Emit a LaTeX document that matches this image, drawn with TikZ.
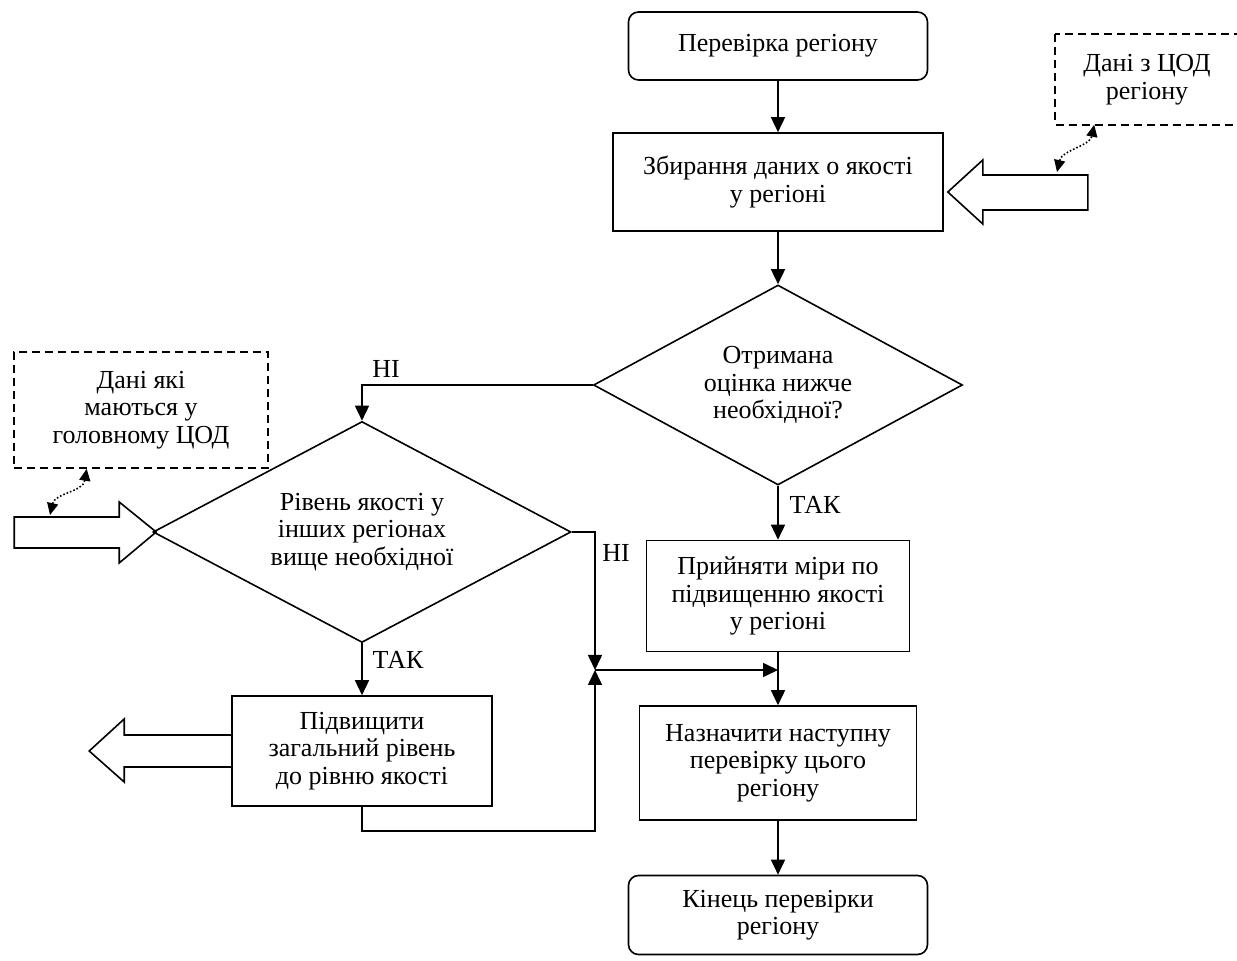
\documentclass[tikz,border=0pt]{standalone}
\usepackage{fontspec}
\setmainfont{Liberation Serif}
\usetikzlibrary{shapes.geometric,arrows.meta}
\tikzset{%
  terminal/.style={rectangle,rounded corners=5pt,draw,align=center,
    minimum width=149.5pt},
  process/.style={rectangle,draw,align=center},
  decision/.style={diamond,draw,align=center,inner sep=0pt},
  source/.style={rectangle,draw,align=center,dash pattern=on 4pt off 2.5pt},
  pre/.style={<-,>={Triangle[length=7.5pt,width=7pt]}},
  post/.style={->,>={Triangle[length=7.5pt,width=7pt]}},
  link/.style={<->,densely dotted,>={Triangle[length=6pt,width=5.5pt]}},
  fat/.style={draw,line join=miter}
}

\begin{document}
\begin{tikzpicture}[x=0.5pt,y=-0.5pt,line width=0.8pt,
    font=\fontsize{13}{13.75}\selectfont]
    \useasboundingbox (0,0) rectangle (1237,961);

    % main column
    \node [terminal,minimum height=34pt] (start) at (778,46) {Перевірка регіону};
    \node [process,minimum width=165pt,minimum height=49pt] (collect) at (778,182)
      {Збирання даних о якості\\у регіоні} edge [pre] (start);
    \node [decision,minimum width=184.5pt,minimum height=100pt,aspect=1.85] (check) at (778,385)
      {Отримана\\оцінка нижче\\необхідної?} edge [pre] (collect);
    \node [process,minimum width=131.5pt,minimum height=55.5pt] (measures) at (778,596)
      {Прийняти міри по\\підвищенню якості\\у регіоні} edge [pre] (check);
    \node [process,minimum width=138.5pt,minimum height=57pt] (plan) at (778,763)
      {Назначити наступну\\перевірку цього\\регіону} edge [pre] (measures);
    \node [terminal,minimum height=39.5pt] (finish) at (778,915)
      {Кінець перевірки\\регіону} edge [pre] (plan);

    % left branch
    \node [decision,minimum width=209pt,minimum height=110.5pt,aspect=1.89] (others) at (362,532)
      {Рівень якості у\\інших регіонах\\вище необхідної};
    \node [process,minimum width=130pt,minimum height=55pt] (raise) at (362,751)
      {Підвищити\\загальний рівень\\до рівню якості} edge [pre] (others);

    % data sources; the right frame runs off the page edge
    \node [source,draw=none,minimum width=91pt,minimum height=44.5pt] (cod) at (1147,79.5)
      {Дані з ЦОД\\регіону};
    \draw [source] (cod.north west) rectangle ([xshift=20pt]cod.south east);
    \node [source,minimum width=127pt,minimum height=58pt] (maincod) at (141,410)
      {Дані які\\маються у\\головному ЦОД};

    \coordinate (join) at (595,670);
    \draw [post] (check.west) -| (others.north);
    \draw [post] (others.east) -| (join);
    \draw [post] (raise.south) -- ++(0,24) -| (join);
    \draw [post] (join) -- (join -| measures.south);

    \node (no1) at (386,369) {НІ};
    \node (yes1) at (815,505) {ТАК};
    \node (no2) at (616,553) {НІ};
    \node (yes2) at (398,660) {ТАК};

    % wide arrows
    \draw [fat] ([xshift=2pt,yshift=-5pt]collect.east) -- ++(35,-32) -- ++(0,15)
      -- ++(105,0) -- ++(0,35) -- ++(-105,0) -- ++(0,14) -- cycle;
    \draw [fat] ([xshift=2pt]others.west) -- ++(-37,-30) -- ++(0,15) -- ++(-105,0)
      -- ++(0,31) -- ++(105,0) -- ++(0,15) -- cycle;
    \draw [fat] ([yshift=8pt]raise.west) -- ++(-107,0) -- ++(0,-16) -- ++(-35,32)
      -- ++(35,31) -- ++(0,-15) -- ++(107,0);

    \coordinate (codtap) at (1057,172);
    \coordinate (maintap) at (50,515);
    \draw [link] (codtap) .. controls (1062,150) and (1090,146) .. ([xshift=19.5pt]cod.south west);
    \draw [link] (maintap) .. controls (55,493) and (83,492) .. ([xshift=36.75pt]maincod.south west);
\end{tikzpicture}
\end{document}
